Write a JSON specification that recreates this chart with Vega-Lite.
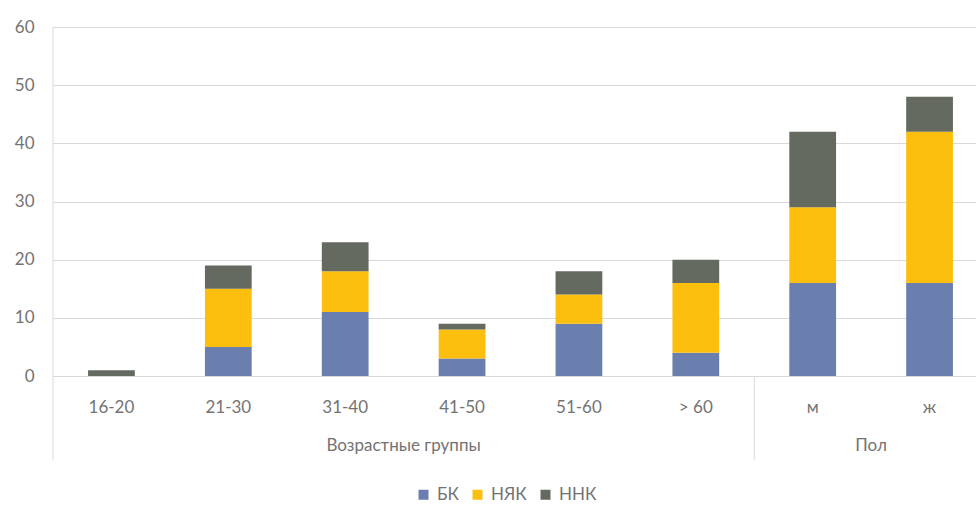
{
  "$schema": "https://vega.github.io/schema/vega-lite/v6.json",
  "width": 923,
  "height": 349,
  "autosize": "none",
  "padding": {"left": 53, "top": 27, "right": 0, "bottom": 129},
  "background": "white",
  "config": {"view": {"stroke": null}, "font": "Lato"},
  "layer": [
    {
      "data": {"values": [
        {"cat": "16-20", "type": "БК", "k": 1, "value": 0},
        {"cat": "16-20", "type": "НЯК", "k": 2, "value": 0},
        {"cat": "16-20", "type": "ННК", "k": 3, "value": 1},
        {"cat": "21-30", "type": "БК", "k": 1, "value": 5},
        {"cat": "21-30", "type": "НЯК", "k": 2, "value": 10},
        {"cat": "21-30", "type": "ННК", "k": 3, "value": 4},
        {"cat": "31-40", "type": "БК", "k": 1, "value": 11},
        {"cat": "31-40", "type": "НЯК", "k": 2, "value": 7},
        {"cat": "31-40", "type": "ННК", "k": 3, "value": 5},
        {"cat": "41-50", "type": "БК", "k": 1, "value": 3},
        {"cat": "41-50", "type": "НЯК", "k": 2, "value": 5},
        {"cat": "41-50", "type": "ННК", "k": 3, "value": 1},
        {"cat": "51-60", "type": "БК", "k": 1, "value": 9},
        {"cat": "51-60", "type": "НЯК", "k": 2, "value": 5},
        {"cat": "51-60", "type": "ННК", "k": 3, "value": 4},
        {"cat": "> 60", "type": "БК", "k": 1, "value": 4},
        {"cat": "> 60", "type": "НЯК", "k": 2, "value": 12},
        {"cat": "> 60", "type": "ННК", "k": 3, "value": 4},
        {"cat": "м", "type": "БК", "k": 1, "value": 16},
        {"cat": "м", "type": "НЯК", "k": 2, "value": 13},
        {"cat": "м", "type": "ННК", "k": 3, "value": 13},
        {"cat": "ж", "type": "БК", "k": 1, "value": 16},
        {"cat": "ж", "type": "НЯК", "k": 2, "value": 26},
        {"cat": "ж", "type": "ННК", "k": 3, "value": 6}
      ]},
      "mark": {"type": "bar", "width": {"band": 0.4}},
      "encoding": {
        "x": {
          "field": "cat", "type": "nominal",
          "scale": {"domain": ["16-20", "21-30", "31-40", "41-50", "51-60", "> 60", "м", "ж"], "range": [0, 935], "paddingInner": 0, "paddingOuter": 0},
          "axis": {"title": null, "domain": false, "ticks": false, "labelAngle": 0, "labelPadding": 23, "labelFontSize": 17, "labelColor": "#737373", "grid": false}
        },
        "y": {
          "field": "value", "type": "quantitative", "aggregate": "sum", "stack": "zero",
          "scale": {"domain": [0, 60], "nice": false},
          "axis": {"title": null, "values": [0, 10, 20, 30, 40, 50, 60], "domain": false, "ticks": false, "labelPadding": 19, "labelFontSize": 17, "labelColor": "#737373", "gridColor": "#d9d9d9", "gridWidth": 1}
        },
        "color": {
          "field": "type", "type": "nominal",
          "scale": {"domain": ["БК", "НЯК", "ННК"], "range": ["#6a7fae", "#fcbf0e", "#646a5f"]},
          "legend": {"title": null, "orient": "none", "direction": "horizontal", "legendX": 362, "legendY": 459, "symbolType": "square", "symbolSize": 100, "symbolStrokeWidth": 0, "labelFontSize": 17, "labelColor": "#737373", "columnPadding": 10, "labelOffset": 5}
        },
        "order": {"field": "k", "type": "quantitative"}
      }
    },
    {
      "data": {"values": [
        {"cat": "16-20", "top": 60},
        {"cat": "м", "top": 0}
      ]},
      "mark": {"type": "rule", "color": "#d9d9d9", "strokeWidth": 1},
      "encoding": {
        "x": {"field": "cat", "type": "nominal", "bandPosition": 0},
        "y": {"field": "top", "type": "quantitative"},
        "y2": {"datum": -14.5}
      }
    },
    {
      "data": {"values": [
        {"cat": "31-40", "label": "Возрастные группы"},
        {"cat": "м", "label": "Пол"}
      ]},
      "mark": {"type": "text", "fontSize": 17, "color": "#737373", "baseline": "middle", "align": "center"},
      "encoding": {
        "x": {"field": "cat", "type": "nominal", "bandPosition": 1},
        "y": {"datum": -12},
        "text": {"field": "label"}
      }
    }
  ]
}
